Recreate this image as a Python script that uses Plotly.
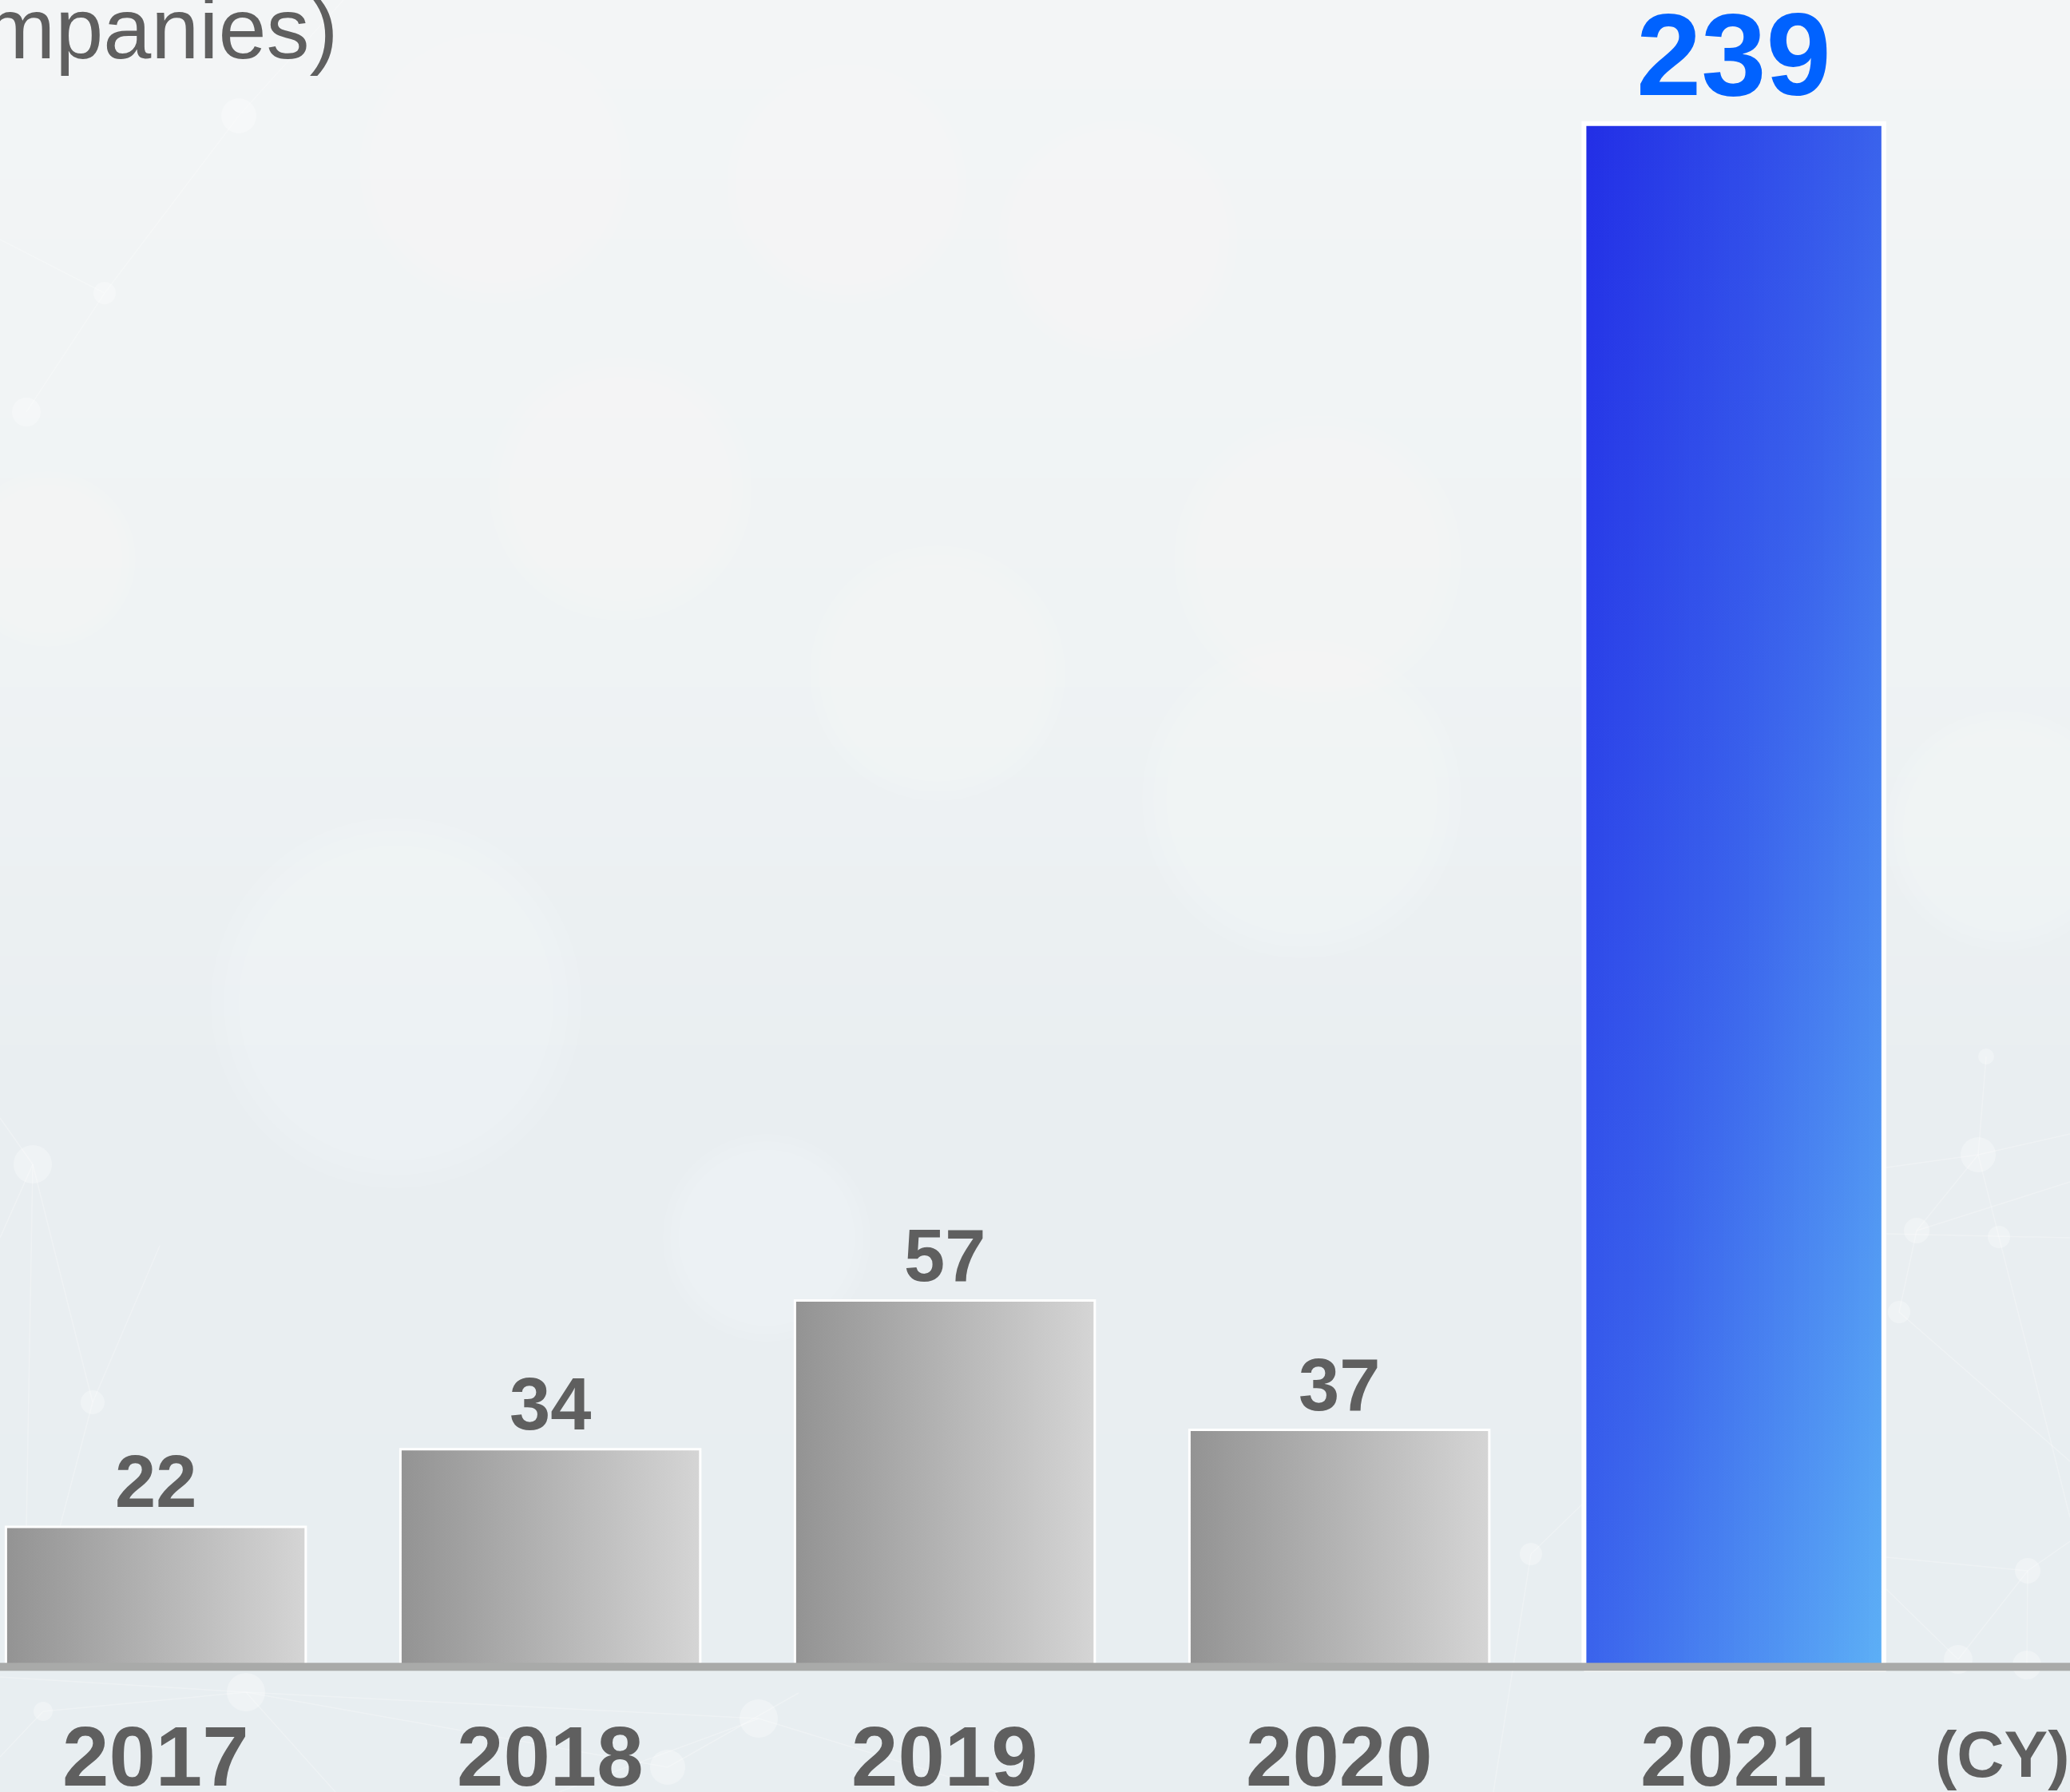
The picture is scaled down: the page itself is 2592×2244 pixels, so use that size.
import plotly.graph_objects as go

# ---- data -----------------------------------------------------------------
years = ["2017", "2018", "2019", "2020", "2021"]
companies = [22, 34, 57, 37, 239]
highlight_year = "2021"
y_title = "(Number of companies)"
x_unit = "(CY)"

# ---- styling ----------------------------------------------------------------
W, H = 2592, 2244
BAR_W = 0.76
X_RANGE = [-0.395, 4.852]
Y_RANGE = [-19.0, 258.1]
FONT = "Liberation Sans, Arial, Helvetica, sans-serif"
TEXT_GRAY = "#5f5f5f"
HIGHLIGHT_TEXT = "#0062ff"
GRAY_SCALE = [[0.0, "#939393"], [1.0, "#d5d5d5"]]
# diagonal blue ramp: t = 0 top-left ... t = 1 bottom-right
BLUE_STOPS = [(0.0, (34, 46, 230)), (0.5, (58, 98, 236)), (1.0, (93, 176, 246))]
AXIS_COLOR = "#a9aaa9"


def blue_at(t):
    t = min(max(t, 0.0), 1.0)
    for (t0, c0), (t1, c1) in zip(BLUE_STOPS[:-1], BLUE_STOPS[1:]):
        if t <= t1:
            f = (t - t0) / (t1 - t0)
            r, g, b = (round(a + (b_ - a) * f) for a, b_ in zip(c0, c1))
            return f"rgb({r},{g},{b})"
    r, g, b = BLUE_STOPS[-1][1]
    return f"rgb({r},{g},{b})"


def hex_mix(c0, c1, f):
    a = [int(c0[i:i + 2], 16) for i in (1, 3, 5)]
    b = [int(c1[i:i + 2], 16) for i in (1, 3, 5)]
    return "#" + "".join(f"{round(x + (y - x) * f):02x}" for x, y in zip(a, b))


fig = go.Figure()

# ---- bars -------------------------------------------------------------------
for i, (year, val) in enumerate(zip(years, companies)):
    x0, x1 = i - BAR_W / 2, i + BAR_W / 2
    rect_x = [x0, x1, x1, x0, x0]
    rect_y = [0, 0, val, val, 0]
    if year != highlight_year:
        fig.add_trace(go.Scatter(
            x=rect_x, y=rect_y, mode="lines", fill="toself",
            fillgradient=dict(type="horizontal", colorscale=GRAY_SCALE,
                              start=x0, stop=x1),
            line=dict(color="white", width=3),
            hoverinfo="skip", showlegend=False,
        ))
    else:
        n = 60
        dw = BAR_W / n
        for j in range(n):
            xf = (j + 0.5) / n
            sx0 = x0 + j * dw
            sx1 = min(x0 + (j + 1.8) * dw, x1)
            cs = [[k / 4, blue_at((xf + (1 - k / 4)) / 2)] for k in range(5)]
            fig.add_trace(go.Scatter(
                x=[sx0, sx1, sx1, sx0, sx0], y=rect_y, mode="lines",
                fill="toself",
                fillgradient=dict(type="vertical", colorscale=cs,
                                  start=0, stop=val),
                line=dict(width=0),
                hoverinfo="skip", showlegend=False,
            ))
        fig.add_trace(go.Scatter(
            x=rect_x, y=rect_y, mode="lines",
            line=dict(color="white", width=6),
            hoverinfo="skip", showlegend=False,
        ))

# ---- value labels -------------------------------------------------------------
for i, (year, val) in enumerate(zip(years, companies)):
    hi = year == highlight_year
    fig.add_annotation(
        x=i, y=val, xref="x", yref="y", text=str(val), showarrow=False,
        xanchor="center", yanchor="bottom", yshift=4 if not hi else 3,
        font=dict(family=FONT, size=146 if hi else 92, weight="bold",
                  color=HIGHLIGHT_TEXT if hi else TEXT_GRAY),
    )

# ---- category labels ------------------------------------------------------------
for i, year in enumerate(years):
    fig.add_annotation(
        x=i, y=-13.5, xref="x", yref="y", text=year, showarrow=False,
        xanchor="center", yanchor="middle",
        font=dict(family=FONT, size=105, weight="bold", color=TEXT_GRAY),
    )
fig.add_annotation(
    x=4.68, y=-13.1, xref="x", yref="y", text=x_unit, showarrow=False,
    xanchor="center", yanchor="middle",
    font=dict(family=FONT, size=82, weight="bold", color=TEXT_GRAY),
)
fig.add_annotation(
    x=0.466, y=253.7, xref="x", yref="y", text=y_title, showarrow=False,
    xanchor="right", yanchor="middle",
    font=dict(family=FONT, size=108, color=TEXT_GRAY),
)

# ---- baseline -------------------------------------------------------------------
fig.add_shape(type="line", xref="paper", yref="y", x0=0, x1=1, y0=0.37, y1=0.37,
              line=dict(color=AXIS_COLOR, width=10), layer="above")

# ---- soft background -----------------------------------------------------------
bg_stops = [(0.0, "#f3f5f6"), (0.35, "#eff3f4"), (0.6, "#e9eef1"), (1.0, "#e8eef1")]
bands = 60
for k in range(bands):
    yt = k / bands
    for (a, ca), (b, cb) in zip(bg_stops[:-1], bg_stops[1:]):
        if a <= yt <= b:
            col = hex_mix(ca, cb, (yt - a) / (b - a))
            break
    fig.add_shape(type="rect", xref="paper", yref="paper",
                  x0=0, x1=1, y0=1 - (k + 1) / bands - 0.002, y1=1 - k / bands,
                  fillcolor=col, line=dict(width=0), layer="below")


def px_circle(cx, cy, r, op):
    fig.add_shape(type="circle", xref="paper", yref="paper",
                  x0=(cx - r) / W, x1=(cx + r) / W,
                  y0=1 - (cy + r) / H, y1=1 - (cy - r) / H,
                  fillcolor="white", opacity=op, line=dict(width=0), layer="below")


def px_line(xa, ya, xb, yb, op=0.28):
    fig.add_shape(type="line", xref="paper", yref="paper",
                  x0=xa / W, x1=xb / W, y0=1 - ya / H, y1=1 - yb / H,
                  line=dict(color="white", width=1.5), opacity=op, layer="below")


# faint bokeh discs (pixel centre x, y and radius), softened with rings
bokeh = [(496, 1256, 232), (1174, 843, 160), (777, 612, 165),
         (1650, 700, 180), (1060, 230, 150), (620, 210, 170),
         (1400, 300, 150), (2510, 1040, 150), (60, 700, 110),
         (1630, 1000, 200), (960, 1550, 130)]
for cx, cy, r in bokeh:
    for f in (1.0, 0.93, 0.85):
        px_circle(cx, cy, r * f, 0.08)

# faint network lines and nodes
net_lines = [(0, 1400, 41, 1458), (41, 1458, 116, 1756), (41, 1458, 30, 2083),
             (116, 1756, 30, 2083), (41, 1458, 0, 1550), (116, 1756, 200, 1560),
             (0, 2100, 308, 2119), (308, 2119, 54, 2143), (308, 2119, 950, 2152),
             (54, 2143, 0, 2200), (308, 2119, 836, 2213), (308, 2119, 420, 2244),
             (950, 2152, 1250, 2244), (950, 2152, 700, 2244), (836, 2213, 1000, 2120),
             (2487, 1323, 2477, 1446), (2477, 1446, 2400, 1541), (2477, 1446, 2503, 1549),
             (2400, 1541, 2378, 1643), (2378, 1643, 2592, 1830), (2503, 1549, 2592, 1900),
             (2362, 1462, 2477, 1446), (2362, 1545, 2592, 1550), (2477, 1446, 2592, 1420),
             (2400, 1541, 2592, 1480), (2539, 1967, 2452, 2078), (2539, 1967, 2538, 2085),
             (2362, 1950, 2539, 1967), (2452, 2078, 2362, 1990), (2539, 1967, 2592, 1930),
             (1917, 1946, 1870, 2244), (1917, 1946, 1985, 1880), (299, 145, 131, 367),
             (131, 367, 33, 516), (299, 145, 430, 0), (131, 367, 0, 300)]
for ln in net_lines:
    px_line(*ln)
net_nodes = [(41, 1458, 24), (116, 1756, 15), (308, 2119, 24), (54, 2143, 12),
             (950, 2152, 24), (836, 2213, 22), (2477, 1446, 22), (2400, 1541, 16),
             (2503, 1549, 14), (2378, 1643, 14), (2487, 1323, 10), (2539, 1967, 16),
             (2452, 2078, 18), (2538, 2085, 18), (1917, 1946, 14), (299, 145, 22),
             (131, 367, 14), (33, 516, 18)]
for cx, cy, r in net_nodes:
    px_circle(cx, cy, r, 0.3)

fig.update_layout(
    width=W, height=H, autosize=False,
    margin=dict(l=0, r=0, t=0, b=0, pad=0),
    paper_bgcolor="#edf1f3", plot_bgcolor="rgba(0,0,0,0)",
    showlegend=False,
    xaxis=dict(range=X_RANGE, visible=False, fixedrange=True),
    yaxis=dict(range=Y_RANGE, visible=False, fixedrange=True),
)

fig.write_html("out.html", config={"displayModeBar": False})
